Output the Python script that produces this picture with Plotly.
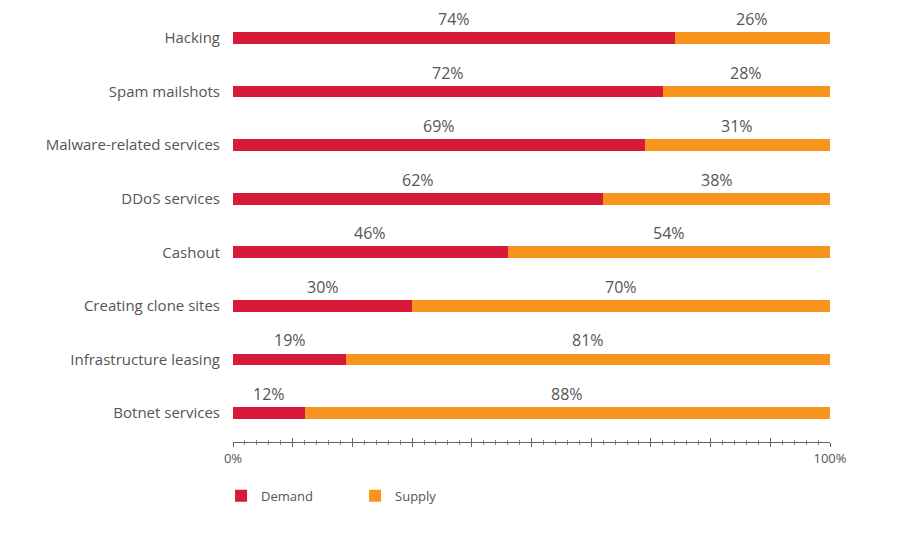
import plotly.graph_objects as go

# Demand vs supply share of cybercrime service ads
categories = [
    'Hacking',
    'Spam mailshots',
    'Malware-related services',
    'DDoS services',
    'Cashout',
    'Creating clone sites',
    'Infrastructure leasing',
    'Botnet services',
]
demand = [74, 72, 69, 62, 46, 30, 19, 12]
supply = [26, 28, 31, 38, 54, 70, 81, 88]

RED = '#d7193a'
ORANGE = '#f7941d'
GREY = '#555555'

rows = list(range(len(categories)))

fig = go.Figure()
fig.add_trace(go.Bar(
    y=rows, x=demand, name='Demand', orientation='h',
    marker=dict(color=RED, line=dict(width=0)), width=0.22,
))
fig.add_trace(go.Bar(
    y=rows, x=supply, name='Supply', orientation='h',
    marker=dict(color=ORANGE, line=dict(width=0)), width=0.22,
))

# value labels sit above the middle of each segment
annotations = []
for i, (d, s) in enumerate(zip(demand, supply)):
    for center, val in ((d / 2, d), (d + s / 2, s)):
        annotations.append(dict(
            x=center, y=i, xref='x', yref='y', text=f'{val}%',
            showarrow=False, yshift=19,
            font=dict(size=16, color=GREY),
        ))

fig.update_layout(
    width=900, height=533,
    margin=dict(l=225, r=78, t=0, b=99),
    barmode='stack',
    plot_bgcolor='white', paper_bgcolor='white',
    font=dict(family='Open Sans, sans-serif', color=GREY),
    annotations=annotations,
    showlegend=True,
    legend=dict(
        orientation='h', traceorder='normal',
        x=-0.02, xanchor='left', y=-0.124, yanchor='middle',
        font=dict(size=13, color=GREY), entrywidth=89, itemclick=False,
    ),
    yaxis=dict(
        range=[7.54, -0.56], tickvals=rows, ticktext=categories,
        showgrid=False, zeroline=False, showline=False, ticks='',
        ticklabelstandoff=12, tickfont=dict(size=15, color=GREY),
    ),
    xaxis=dict(
        range=[0, 100],
        tickvals=[0, 10, 20, 30, 40, 50, 60, 70, 80, 90, 100],
        ticktext=['0%', '', '', '', '', '', '', '', '', '', '100%'],
        showgrid=False, zeroline=False, showline=True, linecolor='#666666', linewidth=1,
        ticks='outside', ticklen=4, tickcolor='#666666',
        tickfont=dict(size=13, color=GREY),
        minor=dict(dtick=2, ticks='outside', ticklen=2, tickcolor='#888888', showgrid=False),
    ),
    # second axis over the first only to make the ticks cross the line
    xaxis2=dict(
        range=[0, 100], overlaying='x', side='bottom', anchor='y',
        dtick=10, ticks='inside', ticklen=4, tickcolor='#666666',
        showticklabels=False, showgrid=False, zeroline=False, showline=False,
        minor=dict(dtick=2, ticks='inside', ticklen=2, tickcolor='#888888', showgrid=False),
    ),
)

# invisible trace so xaxis2 is drawn
fig.add_trace(go.Scatter(x=[0], y=[0], xaxis='x2', mode='markers',
                         marker=dict(opacity=0), showlegend=False, hoverinfo='skip'))

fig.write_html('out.html')
